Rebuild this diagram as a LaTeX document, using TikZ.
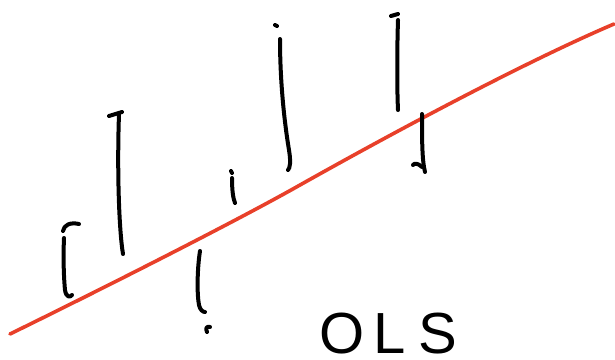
\documentclass[tikz,border=0pt]{standalone}
\usepackage{fontspec}
\setmainfont{Liberation Sans}
\definecolor{Paper}{HTML}{FFFFFF}
\definecolor{FitRed}{HTML}{E8402A}
\definecolor{Pen}{HTML}{000000}
\begin{document}
\begin{tikzpicture}[x=1pt,y=-1pt,fit/.style={draw=FitRed,line width=3.6pt,line cap=round},resid/.style={draw=Pen,line width=4pt,line cap=round,line join=round},label/.style={text=Pen,font=\fontsize{58}{60}\selectfont,inner sep=0pt,text depth=0pt,anchor=base west}]
\fill[Paper] (0,0) rectangle (615,359);\useasboundingbox (0,0) rectangle (615,359);
\draw[fit] (10,334) .. controls (110,285) and (240,219) .. (300,185) .. controls (380,140) and (520,64) .. (614,24);
\draw[resid] (79,224) .. controls (70,222) and (64,225) .. (63,231);\draw[resid] (64,238) .. controls (63,260) and (64,280) .. (65,290) .. controls (66,297) and (70,298) .. (72,295);
\draw[resid] (109,116) -- (122,112);\draw[resid] (119,114) .. controls (117,170) and (119,230) .. (123,254);
\draw[resid] (200,251) .. controls (197,270) and (197,295) .. (199,305) .. controls (200,310) and (203,312) .. (205,312);\draw[resid] (207,332) .. controls (205,328) and (207,326) .. (210,327);
\draw[resid] (231,171) -- (232,173);\draw[resid] (232,178) .. controls (232,190) and (233,198) .. (235,203);
\draw[resid] (275,25) -- (277,26);\draw[resid] (280,39) .. controls (280,80) and (284,120) .. (289,150) .. controls (291,162) and (290,168) .. (288,170);
\draw[resid] (391,16) -- (398,14);\draw[resid] (398,20) .. controls (397,50) and (397,90) .. (398,110);
\draw[resid] (422,114) .. controls (422,140) and (422,160) .. (425,172);\draw[resid] (422,167) .. controls (418,163) and (414,163) .. (413,165);
\node[label] (ols) at (319,353) {O\hspace{9pt}L\hspace{13pt}S};
\end{tikzpicture}
\end{document}
